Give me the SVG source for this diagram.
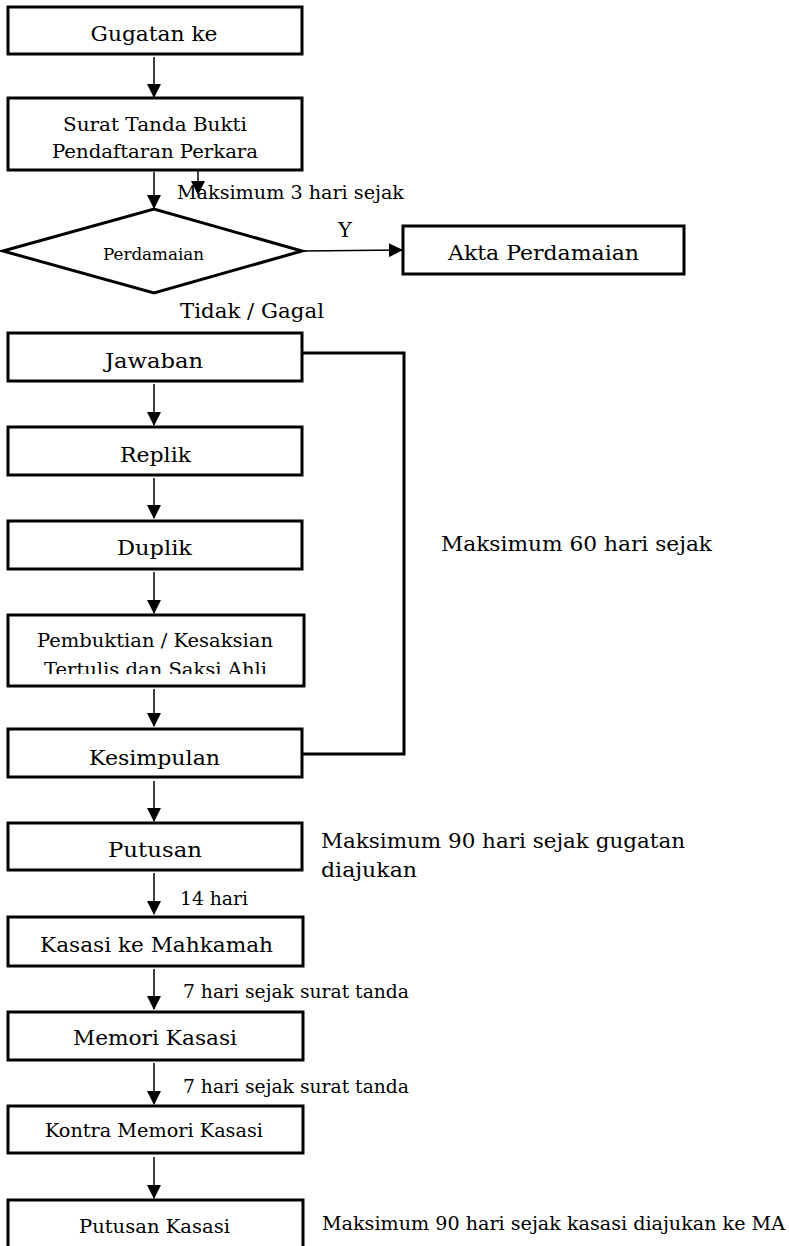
<svg xmlns="http://www.w3.org/2000/svg" width="789" height="1246" viewBox="0 0 789 1246">
<style>
.box{fill:#fff;stroke:#000;stroke-width:3}
.t{font-family:"DejaVu Serif","Liberation Serif",serif;fill:#000}
.c{text-anchor:middle}
.b{font-size:21px}
.l{font-size:18.5px}
.ln{stroke:#000;stroke-width:1.5;fill:none}
.br{stroke:#000;stroke-width:3;fill:none}
</style>
<defs>
<marker id="ah" markerWidth="14" markerHeight="14" refX="13" refY="7" orient="auto" markerUnits="userSpaceOnUse">
<path d="M0,0 L14,7 L0,14 Z" fill="#000"/>
</marker>
<clipPath id="cp1"><rect x="0" y="0" width="789" height="674"/></clipPath>
</defs>
<g id="connectors">
<line class="ln" x1="154" y1="57" x2="154" y2="97" marker-end="url(#ah)"/>
<line class="ln" x1="154" y1="172" x2="154" y2="208" marker-end="url(#ah)"/>
<line class="ln" x1="198" y1="157" x2="198" y2="194" marker-end="url(#ah)"/>
<line class="ln" x1="302" y1="251" x2="402" y2="250" marker-end="url(#ah)"/>
<line class="ln" x1="154" y1="384" x2="154" y2="425" marker-end="url(#ah)"/>
<line class="ln" x1="154" y1="478" x2="154" y2="518" marker-end="url(#ah)"/>
<line class="ln" x1="154" y1="572" x2="154" y2="613" marker-end="url(#ah)"/>
<line class="ln" x1="154" y1="689" x2="154" y2="726" marker-end="url(#ah)"/>
<polyline class="br" points="302,353 404,353 404,754 302,754"/>
<line class="ln" x1="154" y1="781" x2="154" y2="821" marker-end="url(#ah)"/>
<line class="ln" x1="154" y1="873" x2="154" y2="914" marker-end="url(#ah)"/>
<line class="ln" x1="154" y1="969" x2="154" y2="1009" marker-end="url(#ah)"/>
<line class="ln" x1="154" y1="1063" x2="154" y2="1104" marker-end="url(#ah)"/>
<line class="ln" x1="154" y1="1157" x2="154" y2="1198" marker-end="url(#ah)"/>
</g>
<g id="n1"><rect class="box" x="8" y="7" width="294" height="47"/><text class="t c b" x="154" y="41" textLength="127" lengthAdjust="spacingAndGlyphs">Gugatan ke</text></g>
<g id="n2"><rect class="box" x="8" y="98" width="294" height="72"/><text class="t c" x="155" y="131" font-size="18" textLength="184" lengthAdjust="spacingAndGlyphs">Surat Tanda Bukti</text><text class="t c" x="155" y="158" font-size="18" textLength="206" lengthAdjust="spacingAndGlyphs">Pendaftaran Perkara</text></g>
<g id="n3"><polygon class="box" points="3,251 154,209 302,251 154,293"/><text class="t c" x="153.5" y="260" font-size="16" textLength="101" lengthAdjust="spacingAndGlyphs">Perdamaian</text></g>
<g id="n4"><rect class="box" x="403" y="226" width="281" height="48"/><text class="t c b" x="543.5" y="260" textLength="191" lengthAdjust="spacingAndGlyphs">Akta Perdamaian</text></g>
<g id="n5"><rect class="box" x="8" y="333" width="294" height="48"/><text class="t c b" x="154" y="368" textLength="98" lengthAdjust="spacingAndGlyphs">Jawaban</text></g>
<g id="n6"><rect class="box" x="8" y="427" width="294" height="48"/><text class="t c b" x="155.5" y="462" textLength="71" lengthAdjust="spacingAndGlyphs">Replik</text></g>
<g id="n7"><rect class="box" x="8" y="521" width="294" height="48"/><text class="t c b" x="154.5" y="555" textLength="75" lengthAdjust="spacingAndGlyphs">Duplik</text></g>
<g id="n8"><rect class="box" x="8" y="615" width="296" height="71"/><text class="t c" x="155" y="647" font-size="19" textLength="236" lengthAdjust="spacingAndGlyphs">Pembuktian / Kesaksian</text><text class="t c" x="155.5" y="676" font-size="19" textLength="223" lengthAdjust="spacingAndGlyphs" clip-path="url(#cp1)">Tertulis dan Saksi Ahli</text></g>
<g id="n9"><rect class="box" x="8" y="729" width="294" height="48"/><text class="t c b" x="154.5" y="765" textLength="131" lengthAdjust="spacingAndGlyphs">Kesimpulan</text></g>
<g id="n10"><rect class="box" x="8" y="823" width="294" height="47"/><text class="t c b" x="155" y="857" textLength="94" lengthAdjust="spacingAndGlyphs">Putusan</text></g>
<g id="n11"><rect class="box" x="8" y="917" width="295" height="49"/><text class="t c b" x="156.5" y="952" textLength="233" lengthAdjust="spacingAndGlyphs">Kasasi ke Mahkamah</text></g>
<g id="n12"><rect class="box" x="8" y="1012" width="295" height="48"/><text class="t c b" x="155" y="1045" textLength="164" lengthAdjust="spacingAndGlyphs">Memori Kasasi</text></g>
<g id="n13"><rect class="box" x="8" y="1106" width="295" height="47"/><text class="t c" x="154" y="1137" font-size="19" textLength="218" lengthAdjust="spacingAndGlyphs">Kontra Memori Kasasi</text></g>
<g id="n14"><rect class="box" x="8" y="1200" width="295" height="60"/><text class="t c" x="154.5" y="1233" font-size="19" textLength="151" lengthAdjust="spacingAndGlyphs">Putusan Kasasi</text></g>
<g id="labels">
<text class="t l" x="177" y="199" textLength="227" lengthAdjust="spacingAndGlyphs">Maksimum 3 hari sejak</text>
<text class="t" x="338" y="237" font-size="21">Y</text>
<text class="t" x="180" y="318" font-size="20" textLength="144" lengthAdjust="spacingAndGlyphs">Tidak / Gagal</text>
<text class="t" x="441" y="551" font-size="20" textLength="271" lengthAdjust="spacingAndGlyphs">Maksimum 60 hari sejak</text>
<text class="t" x="321" y="848" font-size="20" textLength="364" lengthAdjust="spacingAndGlyphs">Maksimum 90 hari sejak gugatan</text>
<text class="t" x="321" y="877" font-size="20" textLength="96" lengthAdjust="spacingAndGlyphs">diajukan</text>
<text class="t l" x="180" y="905" textLength="68" lengthAdjust="spacingAndGlyphs">14 hari</text>
<text class="t l" x="183" y="998" textLength="226" lengthAdjust="spacingAndGlyphs">7 hari sejak surat tanda</text>
<text class="t l" x="183" y="1093" textLength="226" lengthAdjust="spacingAndGlyphs">7 hari sejak surat tanda</text>
<text class="t" x="322" y="1230" font-size="19" textLength="463" lengthAdjust="spacingAndGlyphs">Maksimum 90 hari sejak kasasi diajukan ke MA</text>
</g>
</svg>
